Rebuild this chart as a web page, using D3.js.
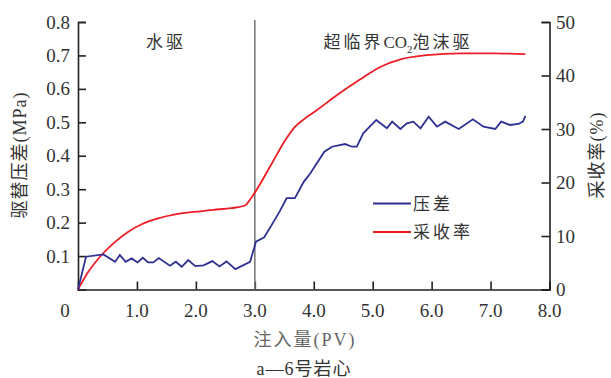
<!DOCTYPE html>
<html>
<head>
<meta charset="utf-8">
<script src="https://cdn.jsdelivr.net/npm/d3@7"></script>
<style>
  body { margin: 0; background: #fff; }
  text { font-family: "Liberation Serif", "Noto Sans CJK SC", serif; fill: #333; }
  .cjk { font-family: "Liberation Serif", "Noto Sans CJK SC", sans-serif; }
</style>
</head>
<body>
<svg id="chart" width="611" height="378"></svg>
<script>
// pressure difference (MPa) vs injected volume (PV)
let pvPress = [0, 0.136, 0.43, 0.63, 0.71, 0.81, 0.91, 1.01, 1.10, 1.19, 1.28, 1.37, 1.56, 1.66, 1.76, 1.87, 1.99, 2.13, 2.28, 2.40, 2.52, 2.67, 2.92, 3.02, 3.16, 3.32, 3.42, 3.54, 3.68, 3.83, 3.94, 4.18, 4.31, 4.53, 4.65, 4.73, 4.84, 5.06, 5.24, 5.33, 5.47, 5.58, 5.69, 5.81, 5.95, 6.09, 6.23, 6.46, 6.70, 6.88, 7.08, 7.18, 7.33, 7.47, 7.55, 7.59];
let pressure = [0, 0.098, 0.105, 0.083, 0.103, 0.083, 0.093, 0.081, 0.095, 0.081, 0.081, 0.094, 0.071, 0.083, 0.068, 0.088, 0.070, 0.072, 0.085, 0.069, 0.084, 0.061, 0.083, 0.143, 0.156, 0.203, 0.233, 0.273, 0.273, 0.322, 0.347, 0.412, 0.427, 0.435, 0.427, 0.427, 0.467, 0.507, 0.482, 0.502, 0.480, 0.497, 0.502, 0.482, 0.517, 0.487, 0.502, 0.480, 0.509, 0.487, 0.480, 0.502, 0.492, 0.495, 0.502, 0.519];

// recovery (%) vs injected volume (PV)
let pvRec = [0, 0.175, 0.40, 0.63, 0.854, 1.08, 1.36, 1.65, 1.96, 2.3, 2.6, 2.83, 2.95, 3.26, 3.54, 3.68, 3.83, 4.05, 4.39, 4.79, 5.13, 5.47, 5.92, 6.49, 7.05, 7.59];
let recovery = [0, 3.3, 6.45, 8.9, 10.8, 12.2, 13.3, 14.05, 14.5, 14.9, 15.2, 15.7, 17.3, 23.0, 28.3, 30.4, 31.8, 33.5, 36.3, 39.3, 41.6, 43.0, 43.8, 44.15, 44.15, 44.0];

let xTicks = [1, 2, 3, 4, 5, 6, 7, 8];
let leftTicks = [0.1, 0.2, 0.3, 0.4, 0.5, 0.6, 0.7, 0.8];
let rightTicks = [0, 10, 20, 30, 40, 50];

let svg = d3.select("#chart");

let x = d3.scaleLinear().domain([0, 8]).range([78, 549.5]);
let yL = d3.scaleLinear().domain([0, 0.8]).range([289.5, 22]);
let yR = d3.scaleLinear().domain([0, 50]).range([289.5, 22]);

let axisColor = "#231f20";

// axes
let gx = svg.append("g").attr("transform", "translate(0,289.5)")
    .call(d3.axisTop(x).tickValues(xTicks).tickSize(8).tickFormat(""));
let gl = svg.append("g").attr("transform", "translate(78,0)")
    .call(d3.axisRight(yL).tickValues(leftTicks).tickSize(8).tickFormat(""));
let gr = svg.append("g").attr("transform", "translate(549.5,0)")
    .call(d3.axisLeft(yR).tickValues(rightTicks).tickSize(8).tickFormat(""));
[gx, gl, gr].forEach(function(g) {
    g.select(".domain").attr("stroke", axisColor).attr("stroke-width", 1.6);
    g.selectAll(".tick line").attr("stroke", axisColor).attr("stroke-width", 1.6);
});

// tick labels
svg.selectAll("text.xl").data(xTicks).enter().append("text")
    .attr("x", d => x(d)).attr("y", 317)
    .attr("text-anchor", "middle").style("font-size", "19px")
    .text(d => d.toFixed(1));
svg.append("text").attr("x", 65).attr("y", 317)
    .attr("text-anchor", "middle").style("font-size", "19px").text("0");
svg.selectAll("text.ll").data(leftTicks).enter().append("text")
    .attr("x", 70).attr("y", d => yL(d) + 6.5)
    .attr("text-anchor", "end").style("font-size", "19px")
    .text(d => d.toFixed(1));
svg.selectAll("text.rl").data(rightTicks).enter().append("text")
    .attr("x", 556).attr("y", d => yR(d) + 6.5)
    .attr("text-anchor", "start").style("font-size", "19px")
    .text(d => d);

// divider at 3.0 PV
svg.append("line")
    .attr("x1", x(3)).attr("x2", x(3)).attr("y1", 20).attr("y2", 289.5)
    .attr("stroke", "#7a7a7a").attr("stroke-width", 1.6);

// lines
let lineL = d3.line().x(d => x(d[0])).y(d => yL(d[1]));
let lineR = d3.line().x(d => x(d[0])).y(d => yR(d[1])).curve(d3.curveMonotoneX);

svg.append("path")
    .datum(d3.zip(pvRec, recovery))
    .attr("d", lineR).attr("fill", "none")
    .attr("stroke", "#ee1c25").attr("stroke-width", 1.8);

svg.append("path")
    .datum(d3.zip(pvPress, pressure))
    .attr("d", lineL).attr("fill", "none")
    .attr("stroke", "#2e3192").attr("stroke-width", 1.8);

// region labels
svg.append("text").attr("class", "cjk").attr("x", 166).attr("y", 48)
    .attr("text-anchor", "middle").style("font-size", "17px")
    .style("letter-spacing", "3px").text("水驱");
let t = svg.append("text").attr("class", "cjk").attr("x", 398).attr("y", 48)
    .attr("text-anchor", "middle").style("font-size", "17px");
t.append("tspan").style("letter-spacing", "3px").text("超临界");
t.append("tspan").text("CO");
t.append("tspan").attr("dy", 5).style("font-size", "11px").text("2");
t.append("tspan").attr("dy", -5).style("letter-spacing", "3px").text("泡沫驱");

// legend
let legend = [["压差", "#2e3192"], ["采收率", "#ee1c25"]];
legend.forEach(function(l, i) {
    let ly = 203.5 + i * 28.5;
    svg.append("line").attr("x1", 373).attr("x2", 411).attr("y1", ly).attr("y2", ly)
        .attr("stroke", l[1]).attr("stroke-width", 1.8);
    svg.append("text").attr("class", "cjk").attr("x", 413).attr("y", ly + 6)
        .style("font-size", "17px").style("letter-spacing", "3px").text(l[0]);
});

// axis titles
svg.append("text").attr("class", "cjk").attr("x", 305).attr("y", 346)
    .attr("text-anchor", "middle").style("font-size", "18px")
    .style("letter-spacing", "2px").style("fill", "#666").text("注入量(PV)");
svg.append("text").attr("class", "cjk").attr("x", 304).attr("y", 375)
    .attr("text-anchor", "middle").style("font-size", "18px")
    .style("letter-spacing", "1px").text("a—6号岩心");
svg.append("text").attr("class", "cjk")
    .attr("transform", "translate(26,155) rotate(-90)")
    .attr("text-anchor", "middle").style("font-size", "18px")
    .style("letter-spacing", "1px").text("驱替压差(MPa)");
svg.append("text").attr("class", "cjk")
    .attr("transform", "translate(603,155) rotate(-90)")
    .attr("text-anchor", "middle").style("font-size", "18px")
    .style("letter-spacing", "1px").text("采收率(%)");
</script>
</body>
</html>
